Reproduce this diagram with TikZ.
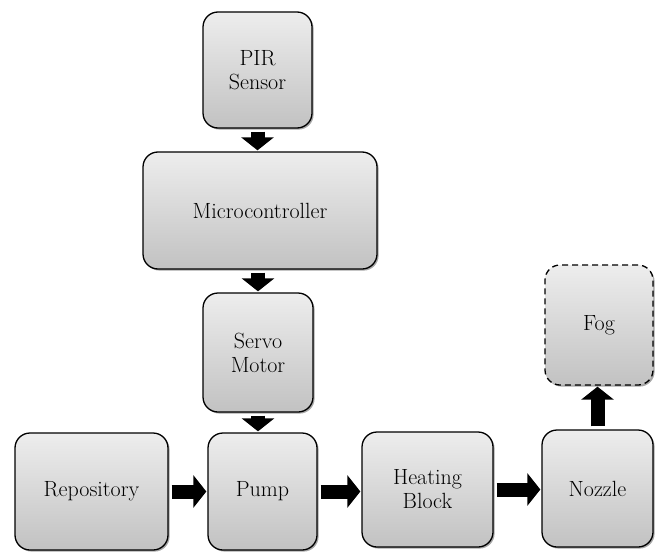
\documentclass[tikz,border=0pt]{standalone}
\usepackage{tikz}
\usetikzlibrary{arrows.meta,shadows}

\tikzset{
  blockbox/.style={rectangle, draw=black, line width=1.3pt, rounded corners=15pt,
    top color=gray!14, bottom color=gray!48, align=center, inner sep=0pt,
    font=\fontsize{22}{24}\selectfont,
    drop shadow={shadow xshift=1.6pt, shadow yshift=-1.6pt, fill=gray!70, opacity=1}},
  flow/.style={line width=14pt, -{Triangle[length=13pt,width=32pt]}, shorten <=3pt, shorten >=1pt}
}

\begin{document}
\begin{tikzpicture}[x=1pt,y=-1pt]

\useasboundingbox (0,0) rectangle (655,551);

%blocks
\node[blockbox, minimum width=109pt, minimum height=116pt] (pir)   at (257.5,70)   {PIR\\Sensor};
\node[blockbox, minimum width=234pt, minimum height=117pt] (micro) at (260,210.5)  {Microcontroller};
\node[blockbox, minimum width=110pt, minimum height=119pt] (servo) at (258,352.5)  {Servo\\Motor};
%
\node[blockbox, minimum width=153pt, minimum height=117pt] (repo)  at (91.5,491.5) {Repository};
\node[blockbox, minimum width=109pt, minimum height=117pt] (pump)  at (262.5,491.5) {Pump};
\node[blockbox, minimum width=131pt, minimum height=115pt] (heat)  at (427.5,489.5) {Heating\\Block};
\node[blockbox, minimum width=111pt, minimum height=117pt] (nozzle) at (597.5,488.5) {Nozzle};
\node[blockbox, dash pattern=on 6pt off 4pt, minimum width=108pt, minimum height=120pt] (fog) at (599,325) {Fog};

%arrows
\draw[flow] (pir.south)   -- (micro.north -| pir.south);
\draw[flow] (micro.south -| servo.north) -- (servo.north);
\draw[flow] (servo.south) -- (pump.north -| servo.south);
%
\draw[flow] (repo.east)   -- (pump.west |- repo.east);
\draw[flow] (pump.east)   -- (heat.west |- pump.east);
\draw[flow] (heat.east)   -- (nozzle.west |- heat.east);
\draw[flow] (nozzle.north) -- (fog.south -| nozzle.north);

\end{tikzpicture}
\end{document}
